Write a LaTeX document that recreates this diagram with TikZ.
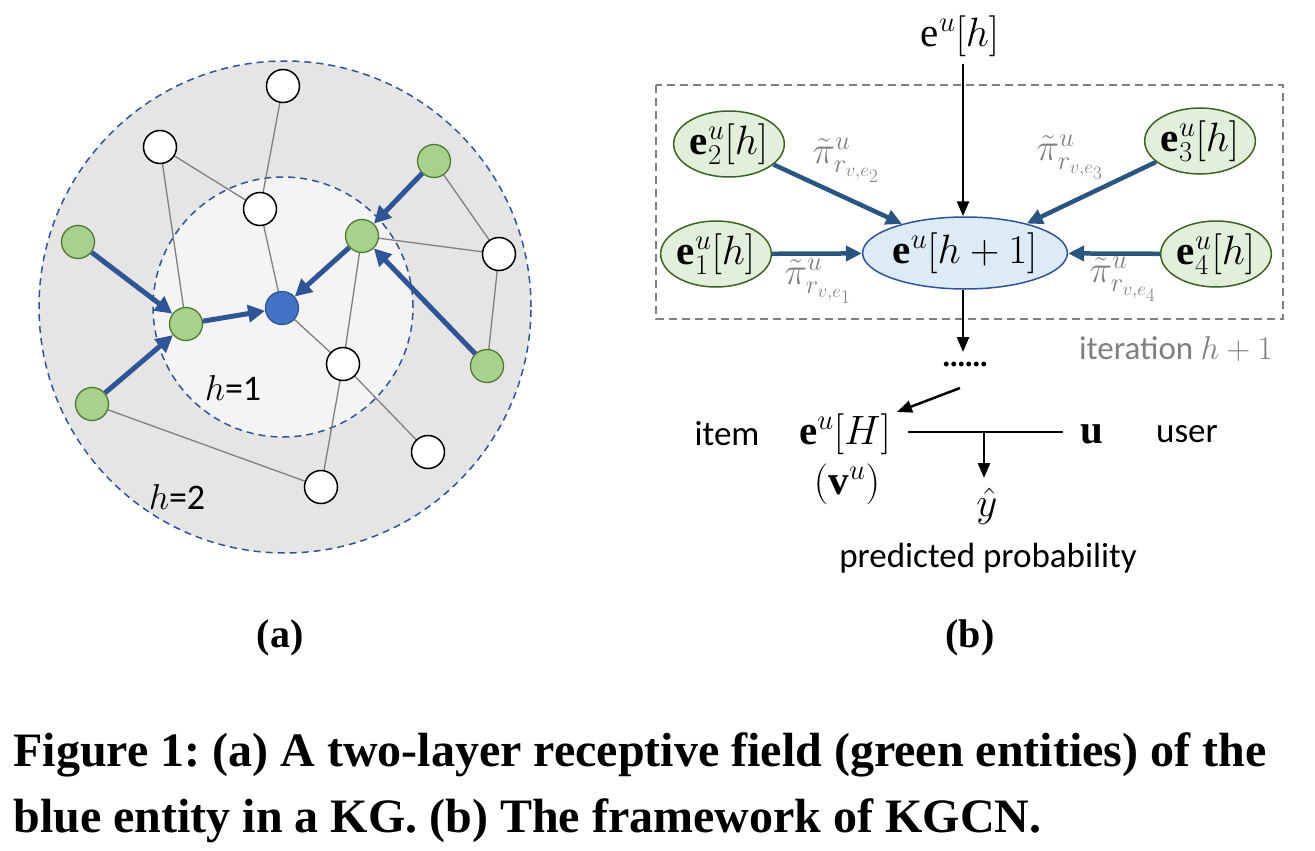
\RequirePackage{fix-cm}
\documentclass[tikz,border=0pt]{standalone}
\usepackage{fontspec}
\setmainfont{Liberation Serif}
\newfontfamily\calib{Carlito}
\usetikzlibrary{arrows.meta,shapes.geometric}
\pgfdeclarelayer{ringlayer}
\pgfdeclarelayer{linelayer}
\pgfsetlayers{ringlayer,linelayer,main}
\definecolor{ringblue}{HTML}{2F5597}
\definecolor{gfill}{HTML}{A9D18E}
\definecolor{gdraw}{HTML}{4E7A30}
\definecolor{bfill}{HTML}{4472C4}
\definecolor{bdraw}{HTML}{2F5597}
\definecolor{arrblue}{HTML}{2F5597}
\definecolor{arrblueb}{HTML}{2A5580}
\definecolor{outerg}{HTML}{E5E5E5}
\definecolor{innerg}{HTML}{F4F4F4}
\definecolor{efill}{HTML}{E2EFDA}
\definecolor{edraw}{HTML}{3B6323}
\definecolor{cfill}{HTML}{DDEBF7}
\definecolor{labgray}{HTML}{808080}
\tikzset{
  wnode/.style={circle, draw=black, fill=white, line width=1.5pt, minimum size=33pt, inner sep=0pt},
  gnode/.style={circle, draw=gdraw, fill=gfill, line width=1.3pt, minimum size=33pt, inner sep=0pt},
  bnode/.style={circle, draw=bdraw, fill=bfill, line width=1.3pt, minimum size=33pt, inner sep=0pt},
  gline/.style={draw=gray, line width=1.3pt},
  barr/.style={-{Triangle[length=17pt,width=17pt]}, line width=5pt, draw=arrblue},
  ring/.style={circle, draw=ringblue, line width=1.5pt, dash pattern=on 7pt off 5pt, inner sep=0pt},
  gell/.style={ellipse, draw=edraw, fill=efill, line width=1.5pt, inner sep=0pt, minimum width=106pt, minimum height=66pt, font=\fontsize{41}{46}\selectfont},
  cell/.style={ellipse, draw=bdraw, fill=cfill, line width=1.5pt, inner sep=0pt, minimum width=180pt, minimum height=72pt, font=\fontsize{41}{46}\selectfont},
  barrb/.style={-{Triangle[length=16pt,width=15pt]}, line width=4.5pt, draw=arrblueb},
  karr/.style={-{Triangle[length=15pt,width=12pt]}, line width=2.5pt, draw=black},
  pilab/.style={text=labgray, font=\fontsize{38}{42}\selectfont},
  sans/.style={font=\calib\fontsize{35}{40}\selectfont},
  mlab/.style={font=\fontsize{41}{46}\selectfont},
  sublab/.style={font=\bfseries\fontsize{40}{46}\selectfont},
  caption/.style={anchor=west, font=\frenchspacing\bfseries\fontsize{48}{56}\selectfont},
}
\begin{document}
\begin{tikzpicture}[x=1pt,y=-1pt]
\useasboundingbox (0,0) rectangle (1315,851);
% ---------- (a) ----------
\begin{pgfonlayer}{ringlayer}
\node[ring, fill=outerg, minimum size=492pt] (outer) at (285,307) {};
\node[ring, fill=innerg, minimum size=260pt] (inner) at (283,307) {};
\end{pgfonlayer}
\node[wnode] (w1) at (283,86) {};
\node[wnode] (w2) at (160,147) {};
\node[wnode] (w3) at (260,209) {};
\node[wnode] (w4) at (499,254) {};
\node[wnode] (w5) at (343,364) {};
\node[wnode] (w6) at (428,452) {};
\node[wnode] (w7) at (321,487) {};
\node[gnode] (g1) at (434,161) {};
\node[gnode] (g2) at (362,236) {};
\node[gnode] (g3) at (78,242) {};
\node[gnode] (g4) at (186,324) {};
\node[gnode] (g5) at (487,366) {};
\node[gnode] (g6) at (92,404) {};
\node[bnode] (b) at (282,308) {};
\begin{pgfonlayer}{linelayer}
\draw[gline] (w1) -- (w3);
\draw[gline] (w2) -- (w3);
\draw[gline] (w2) -- (g4);
\draw[gline] (w3) -- (b);
\draw[gline] (b) -- (w5);
\draw[gline] (g2) -- (w4);
\draw[gline] (g2) -- (w5);
\draw[gline] (g1) -- (w4);
\draw[gline] (w4) -- (g5);
\draw[gline] (w5) -- (w6);
\draw[gline] (w5) -- (w7);
\draw[gline] (g6) -- (w7);
\end{pgfonlayer}
\draw[barr] (g3) -- (g4);
\draw[barr] (g6) -- (g4);
\draw[barr] (g4) -- (b);
\draw[barr] (g1) -- (g2);
\draw[barr] (g5) -- (g2);
\draw[barr] (g2) -- (b);
\node[font=\calib\fontsize{36}{40}\selectfont] (h1) at (233,388) {$h$=1};
\node[font=\calib\fontsize{36}{40}\selectfont] (h2) at (177,497) {$h$=2};
% ---------- (b) ----------
\draw[labgray, line width=1.5pt, dash pattern=on 8pt off 5pt] (656,85) rectangle (1283,319);
\node[mlab] (top) at (960,36) {$\mathrm{e}^{u}[h]$};
\node[cell] (c) at (965,253) {$\mathbf{e}^{u}[h+1]$};
\node[gell] (e2) at (729,144) {$\mathbf{e}^{u}_{2}[h]$};
\node[gell] (e1) at (716,254) {$\mathbf{e}^{u}_{1}[h]$};
\node[gell] (e3) at (1200,141) {$\mathbf{e}^{u}_{3}[h]$};
\node[gell] (e4) at (1216,254) {$\mathbf{e}^{u}_{4}[h]$};
\coordinate (topst) at (963,64);
\draw[karr] (topst) -- (c.north -| topst);
\draw[barrb] (e2) -- (c);
\draw[barrb] (e3) -- (c);
\draw[barrb] (e1) -- (c);
\draw[barrb] (e4) -- (c);
\node[pilab] (p2) at (846,160) {$\tilde{\pi}^{u}_{r_{v,e_2}}$};
\node[pilab] (p3) at (1070,157) {$\tilde{\pi}^{u}_{r_{v,e_3}}$};
\node[pilab] (p1) at (818,281) {$\tilde{\pi}^{u}_{r_{v,e_1}}$};
\node[pilab] (p4) at (1123,279) {$\tilde{\pi}^{u}_{r_{v,e_4}}$};
\node[font=\calib\fontsize{33}{38}\selectfont, text=labgray] (iter) at (1176,349) {iteration $h+1$};
\node[font=\bfseries\fontsize{30}{34}\selectfont] (dots) at (965,364) {......};
\coordinate (dn) at (963,352);
\draw[karr] (c.south -| topst) -- (dn);
\node[sans] (item) at (727,434) {item};
\node[mlab] (eH) at (845,434) {$\mathbf{e}^{u}[H]$};
\node[mlab] (vu) at (847,484) {$(\mathbf{v}^{u})$};
\node[mlab] (uu) at (1092,434) {$\mathbf{u}$};
\node[sans] (user) at (1187,434) {user};
\node[mlab] (yh) at (987,506) {$\hat{y}$};
\node[sans] (pp) at (988,558) {predicted probability};
\coordinate (d1) at (960,388);
\coordinate (d2) at (897,412);
\draw[karr] (d1) -- (d2);
\coordinate (la) at (908,432);
\coordinate (lb) at (1063,432);
\coordinate (lm) at (984,432);
\coordinate (lmd) at (984,478);
\draw[black, line width=2.5pt] (la) -- (lb);
\draw[karr] (lm) -- (lmd);
% ---------- captions ----------
\node[sublab] (la1) at (280,638) {(a)};
\node[sublab] (lb1) at (970,638) {(b)};
\node[caption] (cap1) at (10,755) {Figure 1: (a) A two-layer receptive field (green entities) of the};
\node[caption] (cap2) at (10,821) {blue entity in a KG. (b) The framework of KGCN.};
\end{tikzpicture}
\end{document}
